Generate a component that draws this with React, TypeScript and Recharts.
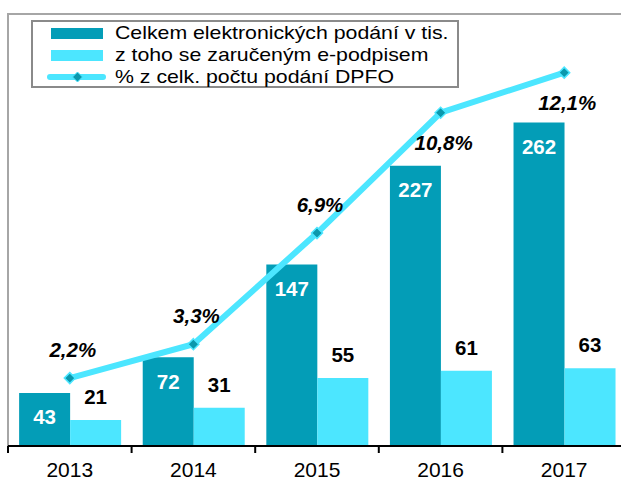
import React from 'react';
import { ComposedChart, Bar, Line, XAxis, YAxis, LabelList, Legend } from 'recharts';

const years = ['2013', '2014', '2015', '2016', '2017'];
const totalSubmissions = [43, 72, 147, 227, 262];
const signedSubmissions = [21, 31, 55, 61, 63];
const percentShare = [2.2, 3.3, 6.9, 10.8, 12.1];
const seriesNames = [
  'Celkem elektronických podání v tis.',
  'z toho se zaručeným e-podpisem',
  '% z celk. počtu podání DPFO',
];
const labelsBelowLine = ['2016', '2017'];

const data = years.map((year, i) => ({
  year,
  total: totalSubmissions[i],
  signed: signedSubmissions[i],
  pct: percentShare[i],
}));

const DARK = '#039db7';
const LIGHT = '#4ce6ff';
const FONT = '"Liberation Sans", Arial, sans-serif';

const CHART_W = 640;
const CHART_H = 482;
const MARGIN = { top: 14, right: 14, bottom: 6, left: 8 };
const HALF_BAND = (CHART_W - MARGIN.left - MARGIN.right) / years.length / 2;

const AxisTick = (props: any) => {
  const { x, y, payload } = props;
  return (
    <g>
      <line x1={x - HALF_BAND} x2={x - HALF_BAND} y1={y} y2={y + 7} stroke="#000" strokeWidth={2} />
      <text x={x} y={y + 31} textAnchor="middle" fontFamily={FONT} fontSize={21} fill="#000">
        {payload.value}
      </text>
    </g>
  );
};

const Diamond = (props: any) => {
  const { cx, cy } = props;
  if (cx == null || cy == null) return null;
  const r = 5.5;
  return (
    <polygon
      points={`${cx},${cy - r} ${cx + r},${cy} ${cx},${cy + r} ${cx - r},${cy}`}
      fill="#0a98ad"
      stroke={LIGHT}
      strokeWidth={1.5}
    />
  );
};

const PctLabel = (props: any) => {
  const { x, y, value, index } = props;
  const below = labelsBelowLine.includes(years[index]);
  return (
    <text
      x={x + 3}
      y={below ? y + 37 : y - 21}
      textAnchor="middle"
      fontFamily={FONT}
      fontSize={20.5}
      fontWeight="bold"
      fontStyle="italic"
      fill="#000"
    >
      {String(value).replace('.', ',') + '%'}
    </text>
  );
};

const LegendBox = () => {
  const row: React.CSSProperties = { display: 'flex', alignItems: 'center', height: 22 };
  const text: React.CSSProperties = {
    display: 'inline-block',
    marginLeft: 12,
    fontFamily: FONT,
    fontSize: 18.5,
    lineHeight: '22px',
    color: '#000',
    whiteSpace: 'nowrap',
    transform: 'scaleX(1.15)',
    transformOrigin: 'left center',
  };
  return (
    <div
      style={{
        width: 428,
        height: 68,
        boxSizing: 'border-box',
        border: '2px solid #8a8a8a',
        background: '#fff',
        paddingLeft: 18,
        paddingTop: 0,
      }}
    >
      <div style={row}>
        <div style={{ width: 52, height: 11, background: DARK, flexShrink: 0 }} />
        <span style={text}>{seriesNames[0]}</span>
      </div>
      <div style={row}>
        <div style={{ width: 52, height: 11, background: LIGHT, flexShrink: 0 }} />
        <span style={text}>{seriesNames[1]}</span>
      </div>
      <div style={row}>
        <svg width={61} height={14} style={{ marginLeft: -5, flexShrink: 0 }}>
          <line x1={4} x2={57} y1={7} y2={7} stroke={LIGHT} strokeWidth={6} strokeLinecap="round" />
          <polygon points="31.5,2 36.5,7 31.5,12 26.5,7" fill="#0a98ad" stroke={LIGHT} strokeWidth={1} />
        </svg>
        <span style={{ ...text, marginLeft: 8 }}>{seriesNames[2]}</span>
      </div>
    </div>
  );
};

export default function App() {
  return (
    <div style={{ position: 'absolute', left: 0, top: 0, width: 621, height: 482, overflow: 'hidden', background: '#fff' }}>
      <div
        style={{
          position: 'absolute',
          left: 7,
          top: 13,
          width: 640,
          height: 433,
          borderLeft: '2px solid #a6a6a6',
          borderTop: '2px solid #a6a6a6',
        }}
      />
      <div style={{ position: 'absolute', left: 0, top: 0 }}>
        <ComposedChart
          width={CHART_W}
          height={CHART_H}
          data={data}
          margin={MARGIN}
          barCategoryGap="9%"
          barGap={0}
        >
          <XAxis
            dataKey="year"
            height={30}
            axisLine={{ stroke: '#000', strokeWidth: 2 }}
            tickLine={false}
            tickSize={0}
            tickMargin={0}
            tick={<AxisTick />}
            interval={0}
          />
          <YAxis yAxisId="left" domain={[0, 350]} hide />
          <YAxis yAxisId="right" orientation="right" domain={[0, 14]} hide />
          <Legend
            layout="vertical"
            align="center"
            verticalAlign="middle"
            content={<LegendBox />}
            wrapperStyle={{ left: 31, top: 20, width: 428, height: 68 }}
          />
          <Bar yAxisId="left" dataKey="total" name={seriesNames[0]} fill={DARK} isAnimationActive={false}>
            <LabelList
              dataKey="total"
              position="insideTop"
              offset={17}
              fill="#fff"
              fontFamily={FONT}
              fontSize={20.5}
              fontWeight="bold"
            />
          </Bar>
          <Bar yAxisId="left" dataKey="signed" name={seriesNames[1]} fill={LIGHT} isAnimationActive={false}>
            <LabelList
              dataKey="signed"
              position="top"
              offset={16}
              fill="#000"
              fontFamily={FONT}
              fontSize={20.5}
              fontWeight="bold"
            />
          </Bar>
          <Line
            yAxisId="right"
            dataKey="pct"
            name={seriesNames[2]}
            stroke={LIGHT}
            strokeWidth={6}
            dot={<Diamond />}
            activeDot={false}
            isAnimationActive={false}
          >
            <LabelList dataKey="pct" content={<PctLabel />} />
          </Line>
        </ComposedChart>
      </div>
    </div>
  );
}
